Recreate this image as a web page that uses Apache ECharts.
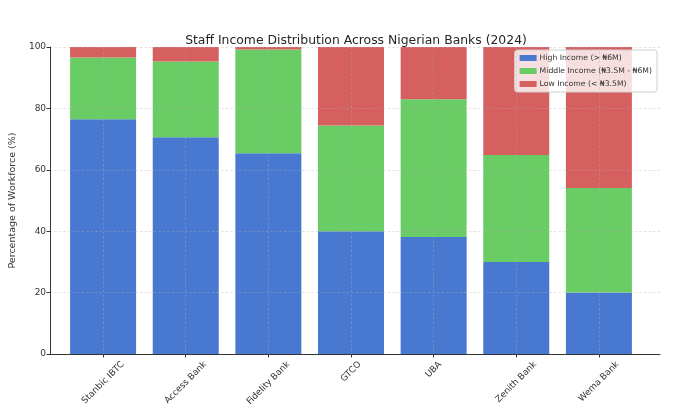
<!DOCTYPE html>
<html>
<head>
<meta charset="utf-8">
<script src="https://cdn.jsdelivr.net/npm/echarts@6/dist/echarts.min.js"></script>
<style>html,body{margin:0;padding:0;background:#fff}#c{width:688px;height:414px}</style>
</head>
<body>
<div id="c"></div>
<script>
var banks = ['Stanbic IBTC', 'Access Bank', 'Fidelity Bank', 'GTCO', 'UBA', 'Zenith Bank', 'Wema Bank'];
var highIncome = [76.5, 70.6, 65.4, 40.0, 38.1, 30.0, 20.0];
var middleIncome = [20.1, 24.7, 33.8, 34.4, 44.9, 34.8, 34.1];
var lowIncome = [3.4, 4.7, 0.8, 25.6, 17.0, 35.2, 45.9];
var yTicks = [0, 20, 40, 60, 80, 100];
var seriesNames = ['High Income (> \u20A66M)', 'Middle Income (\u20A63.5M - \u20A66M)', 'Low Income (< \u20A63.5M)'];

var FONT = 'DejaVu Sans';
var xFont = 8.9;
var ctx = document.createElement('canvas').getContext('2d');
ctx.font = xFont + 'px "' + FONT + '"';
var rich = {};
banks.forEach(function (b, i) {
  var L = ctx.measureText(b).width;
  rich['r' + i] = { fontSize: xFont, fontFamily: FONT, color: '#333', padding: [L / 2, L / 2, 0, 0] };
});

var colors = ['#4878CF', '#6ACC65', '#D65F5F'];
var chart = echarts.init(document.getElementById('c'), null, { renderer: 'canvas' });
var gridLine = { show: true, lineStyle: { color: '#b0b0b0', opacity: 0.45, type: [2.5, 2], width: 0.8 } };
var yMin = yTicks[0], yMax = yTicks[yTicks.length - 1], yStep = yTicks[1] - yTicks[0];
chart.setOption({
  animation: false,
  title: {
    text: 'Staff Income Distribution Across Nigerian Banks (2024)',
    left: 351, textAlign: 'center', top: 30,
    textStyle: { fontFamily: FONT, fontSize: 12.4, fontWeight: 'normal', color: '#262626' }
  },
  legend: {
    orient: 'vertical', right: 31, top: 50,
    icon: 'rect', itemWidth: 17, itemHeight: 6, itemGap: 5,
    backgroundColor: 'rgba(255,255,255,0.8)', borderColor: '#d0d0d0', borderWidth: 1, borderRadius: 3,
    padding: [4, 5, 4, 5],
    textStyle: { fontFamily: FONT, fontSize: 7.7, color: '#333', padding: [0, 0, 0, -2] },
    data: seriesNames
  },
  grid: [
    { left: 42, right: 28, top: 47, bottom: 60, containLabel: false },
    { left: 103.1, right: 89.1, top: 47, bottom: 60, containLabel: false }
  ],
  xAxis: [
    {
      gridIndex: 0, type: 'value', min: 0, max: 1, z: 10,
      axisLine: { show: true, onZero: false, lineStyle: { color: '#333', width: 1 } },
      axisTick: { show: false }, axisLabel: { show: false }, splitLine: { show: false }
    },
    {
      gridIndex: 1, type: 'category', data: banks, boundaryGap: false, z: 10,
      axisLine: { show: false },
      axisTick: { show: true, length: 3.5, lineStyle: { color: '#333' }, interval: 0 },
      axisLabel: {
        interval: 0, rotate: 45, align: 'center', verticalAlign: 'middle', margin: 9,
        formatter: function (v, i) { return '{r' + i + '|' + v + '}'; },
        rich: rich
      },
      splitLine: Object.assign({ interval: 0 }, gridLine)
    }
  ],
  yAxis: [
    {
      gridIndex: 0, type: 'value', min: yMin, max: yMax, interval: yStep, z: 10,
      name: 'Percentage of Workforce (%)', nameLocation: 'middle', nameGap: 25,
      nameTextStyle: { fontFamily: FONT, fontSize: 9.5, color: '#333' },
      axisLine: { show: true, onZero: false, lineStyle: { color: '#333', width: 1 } },
      axisTick: { show: true, length: 3.5, lineStyle: { color: '#333' } },
      axisLabel: { fontFamily: FONT, fontSize: 9, color: '#333', margin: 4 },
      splitLine: gridLine
    },
    {
      gridIndex: 1, type: 'value', min: yMin, max: yMax, interval: yStep, show: false,
      splitLine: { show: false }
    }
  ],
  series: [highIncome, middleIncome, lowIncome].map(function (arr, k) {
    return {
      name: seriesNames[k], type: 'bar', stack: 'total', barWidth: 66,
      xAxisIndex: 1, yAxisIndex: 1,
      itemStyle: { color: colors[k] }, data: arr, z: 2
    };
  })
});
</script>
</body>
</html>
